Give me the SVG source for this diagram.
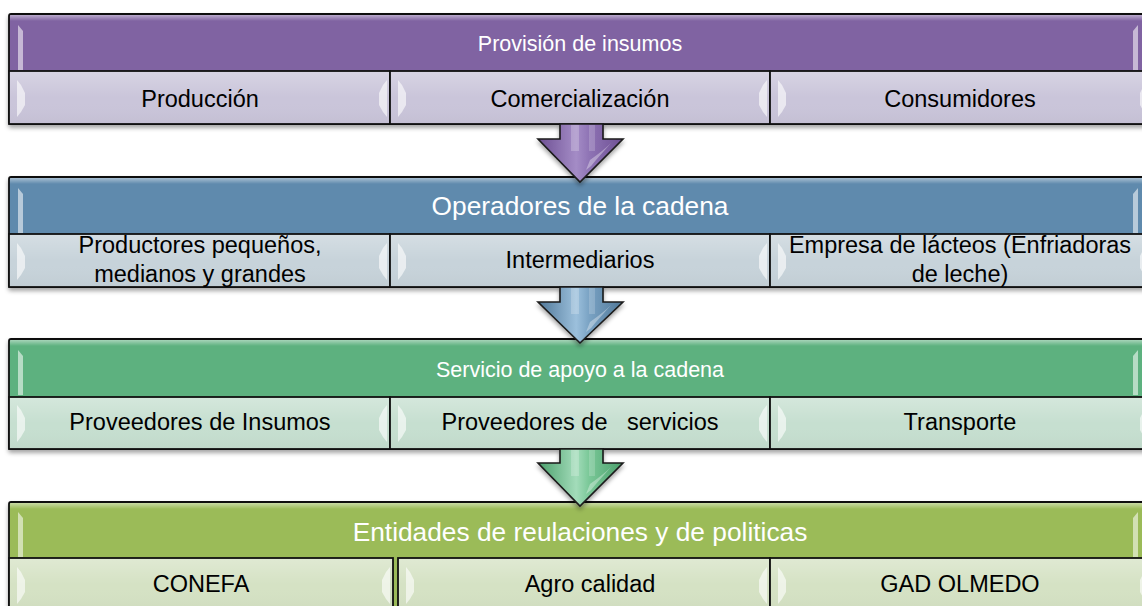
<svg xmlns="http://www.w3.org/2000/svg" width="1142" height="606" viewBox="0 0 1142 606">
<defs>
<style>
.t{font-family:"Liberation Sans",Arial,sans-serif;text-anchor:middle}
.sub{font-size:23.5px;fill:#000}
.hs{font-size:21.5px;fill:#fff}
.hl{font-size:26.3px;fill:#fff}
.box{stroke:#111;stroke-width:1.8}
.cell{stroke:#111;stroke-width:1.8}
.bev{fill:#fff;opacity:.6}
.hbev{fill:#fff;opacity:.55}
.arr{stroke:#1a1a1a;stroke-width:1.6;stroke-linejoin:miter}
</style>
<filter id="sh" x="-5%" y="-20%" width="110%" height="150%">
<feDropShadow dx="0" dy="3" stdDeviation="2.2" flood-color="#000" flood-opacity=".35"/>
</filter>
<linearGradient id="gloss" x1="0" y1="0" x2="0" y2="1">
<stop offset="0" stop-color="#fff" stop-opacity=".45"/>
<stop offset="1" stop-color="#fff" stop-opacity="0"/>
</linearGradient>
<linearGradient id="cg" x1="0" y1="0" x2="0" y2="1">
<stop offset="0" stop-color="#fff" stop-opacity=".25"/>
<stop offset=".5" stop-color="#fff" stop-opacity="0"/>
<stop offset="1" stop-color="#000" stop-opacity=".03"/>
</linearGradient>
<linearGradient id="aP" x1="0" y1="0" x2="1" y2="0">
<stop offset="0" stop-color="#6d4f93"/>
<stop offset=".45" stop-color="#a48cc6"/>
<stop offset=".6" stop-color="#8f74b5"/>
<stop offset="1" stop-color="#6d4f93"/>
</linearGradient>
<linearGradient id="aB" x1="0" y1="0" x2="1" y2="0">
<stop offset="0" stop-color="#4f7798"/>
<stop offset=".45" stop-color="#9cc0dc"/>
<stop offset=".6" stop-color="#7aa3c4"/>
<stop offset="1" stop-color="#4f7798"/>
</linearGradient>
<linearGradient id="aG" x1="0" y1="0" x2="1" y2="0">
<stop offset="0" stop-color="#4a9f6b"/>
<stop offset=".45" stop-color="#a3dcba"/>
<stop offset=".6" stop-color="#7ac898"/>
<stop offset="1" stop-color="#4a9f6b"/>
</linearGradient>
<path id="bl" d="M0,0 L4,5 L8,13 L8,25 L4,32 L0,37 Z"/>
<path id="br" d="M0,0 L-4,5 L-8,13 L-8,25 L-4,32 L0,37 Z"/>
<path id="hb" d="M0,0 L5,6 L5,45 L0,45 Z"/>
</defs>

<!-- Section 1 -->
<g id="sec1">
<g id="provision">
<rect class="box" x="9" y="14" width="1142" height="110" rx="2" fill="#8064a2" filter="url(#sh)"/>
<rect x="10" y="15" width="1140" height="6" fill="url(#gloss)"/>
<use href="#hb" x="18" y="25" class="hbev"/>
<use href="#hb" x="1143" y="25" class="hbev" transform="translate(2281,0) scale(-1,1)"/>
<text class="t hs" x="580" y="51">Provisión de insumos</text>
</g>
<g id="produccion">
<rect class="cell" x="9" y="71" width="381" height="53" fill="#cac5da"/>
<rect x="10" y="72" width="379" height="51" fill="url(#cg)"/>
<use href="#bl" x="17" y="80" class="bev"/><use href="#br" x="387" y="80" class="bev"/>
<text class="t sub" x="200" y="107">Producción</text>
</g>
<g id="comercializacion">
<rect class="cell" x="390" y="71" width="380" height="53" fill="#cac5da"/>
<rect x="391" y="72" width="378" height="51" fill="url(#cg)"/>
<use href="#bl" x="398" y="80" class="bev"/><use href="#br" x="767" y="80" class="bev"/>
<text class="t sub" x="580" y="107">Comercialización</text>
</g>
<g id="consumidores">
<rect class="cell" x="770" y="71" width="381" height="53" fill="#cac5da"/>
<rect x="771" y="72" width="379" height="51" fill="url(#cg)"/>
<use href="#bl" x="778" y="80" class="bev"/><use href="#br" x="1148" y="80" class="bev"/>
<text class="t sub" x="960" y="107">Consumidores</text>
</g>
</g>

<!-- Section 2 -->
<g id="sec2">
<g id="operadores">
<rect class="box" x="9" y="177" width="1142" height="110" rx="2" fill="#5f8aad" filter="url(#sh)"/>
<rect x="10" y="178" width="1140" height="6" fill="url(#gloss)"/>
<use href="#hb" x="18" y="188" class="hbev"/>
<use href="#hb" x="1143" y="188" class="hbev" transform="translate(2281,0) scale(-1,1)"/>
<text class="t hl" x="580" y="215">Operadores de la cadena</text>
</g>
<g id="productores">
<rect class="cell" x="9" y="234" width="381" height="53" fill="#c7d3da"/>
<rect x="10" y="235" width="379" height="51" fill="url(#cg)"/>
<use href="#bl" x="17" y="243" class="bev"/><use href="#br" x="387" y="243" class="bev"/>
<text class="t sub" x="200" y="253">Productores pequeños,</text>
<text class="t sub" x="200" y="282">medianos y grandes</text>
</g>
<g id="intermediarios">
<rect class="cell" x="390" y="234" width="380" height="53" fill="#c7d3da"/>
<rect x="391" y="235" width="378" height="51" fill="url(#cg)"/>
<use href="#bl" x="398" y="243" class="bev"/><use href="#br" x="767" y="243" class="bev"/>
<text class="t sub" x="580" y="268">Intermediarios</text>
</g>
<g id="empresa">
<rect class="cell" x="770" y="234" width="381" height="53" fill="#c7d3da"/>
<rect x="771" y="235" width="379" height="51" fill="url(#cg)"/>
<use href="#bl" x="778" y="243" class="bev"/><use href="#br" x="1148" y="243" class="bev"/>
<text class="t sub" x="960" y="253">Empresa de lácteos (Enfriadoras</text>
<text class="t sub" x="960" y="282">de leche)</text>
</g>
</g>

<!-- Section 3 -->
<g id="sec3">
<g id="servicio">
<rect class="box" x="9" y="339" width="1142" height="110" rx="2" fill="#5db17f" filter="url(#sh)"/>
<rect x="10" y="340" width="1140" height="6" fill="url(#gloss)"/>
<use href="#hb" x="18" y="350" class="hbev"/>
<use href="#hb" x="1143" y="350" class="hbev" transform="translate(2281,0) scale(-1,1)"/>
<text class="t hs" x="580" y="377">Servicio de apoyo a la cadena</text>
</g>
<g id="prov-insumos">
<rect class="cell" x="9" y="397" width="381" height="52" fill="#c6dfd0"/>
<rect x="10" y="398" width="379" height="50" fill="url(#cg)"/>
<use href="#bl" x="17" y="405" class="bev"/><use href="#br" x="387" y="405" class="bev"/>
<text class="t sub" x="200" y="430">Proveedores de Insumos</text>
</g>
<g id="prov-servicios">
<rect class="cell" x="390" y="397" width="380" height="52" fill="#c6dfd0"/>
<rect x="391" y="398" width="378" height="50" fill="url(#cg)"/>
<use href="#bl" x="398" y="405" class="bev"/><use href="#br" x="767" y="405" class="bev"/>
<text class="t sub" x="580" y="430" xml:space="preserve" style="white-space:pre">Proveedores de   servicios</text>
</g>
<g id="transporte">
<rect class="cell" x="770" y="397" width="381" height="52" fill="#c6dfd0"/>
<rect x="771" y="398" width="379" height="50" fill="url(#cg)"/>
<use href="#bl" x="778" y="405" class="bev"/><use href="#br" x="1148" y="405" class="bev"/>
<text class="t sub" x="960" y="430">Transporte</text>
</g>
</g>

<!-- Section 4 -->
<g id="sec4">
<g id="entidades">
<rect class="box" x="9" y="502" width="1142" height="110" rx="2" fill="#9bbb59" filter="url(#sh)"/>
<rect x="10" y="503" width="1140" height="6" fill="url(#gloss)"/>
<use href="#hb" x="18" y="512" class="hbev"/>
<use href="#hb" x="1143" y="512" class="hbev" transform="translate(2281,0) scale(-1,1)"/>
<text class="t hl" x="580" y="541">Entidades de reulaciones y de politicas</text>
</g>
<g id="conefa">
<rect class="cell" x="9" y="558" width="384" height="53" fill="#d5e2c4"/>
<rect x="10" y="559" width="382" height="51" fill="url(#cg)"/>
<use href="#bl" x="17" y="567" class="bev"/><use href="#br" x="390" y="567" class="bev"/>
<text class="t sub" x="201" y="592">CONEFA</text>
</g>
<g id="agrocalidad">
<rect class="cell" x="398" y="558" width="372" height="53" fill="#d5e2c4"/>
<rect x="399" y="559" width="370" height="51" fill="url(#cg)"/>
<use href="#bl" x="406" y="567" class="bev"/><use href="#br" x="767" y="567" class="bev"/>
<text class="t sub" x="590" y="592">Agro calidad</text>
</g>
<g id="gad">
<rect class="cell" x="770" y="558" width="381" height="53" fill="#d5e2c4"/>
<rect x="771" y="559" width="379" height="51" fill="url(#cg)"/>
<use href="#bl" x="778" y="567" class="bev"/><use href="#br" x="1148" y="567" class="bev"/>
<text class="t sub" x="960" y="592">GAD OLMEDO</text>
</g>
</g>

<!-- Connectors -->
<g id="connectors">
<g id="arrow1" filter="url(#sh)">
<path class="arr" d="M560,124 L603,124 L603,139 L623,139 L580,182 L538,139 L560,139 Z" fill="url(#aP)"/>
<rect x="571" y="125" width="8" height="26" fill="#fff" opacity=".22"/>
<rect x="589" y="125" width="6" height="26" fill="#fff" opacity=".18"/>
<path d="M590,160 Q604,150 611,143 L596,160 Q592,166 586,170 Z" fill="#fff" opacity=".35"/>
</g>
<g id="arrow2" filter="url(#sh)">
<path class="arr" d="M560,287 L603,287 L603,302 L623,302 L580,343 L538,302 L560,302 Z" fill="url(#aB)"/>
<rect x="571" y="288" width="8" height="26" fill="#fff" opacity=".22"/>
<rect x="589" y="288" width="6" height="26" fill="#fff" opacity=".18"/>
<path d="M590,322 Q604,312 611,305 L596,322 Q592,328 586,332 Z" fill="#fff" opacity=".35"/>
</g>
<g id="arrow3" filter="url(#sh)">
<path class="arr" d="M560,449 L603,449 L603,463 L623,463 L580,506 L538,463 L560,463 Z" fill="url(#aG)"/>
<rect x="571" y="450" width="8" height="26" fill="#fff" opacity=".22"/>
<rect x="589" y="450" width="6" height="26" fill="#fff" opacity=".18"/>
<path d="M590,484 Q604,474 611,467 L596,484 Q592,490 586,494 Z" fill="#fff" opacity=".35"/>
</g>
</g>
</svg>
